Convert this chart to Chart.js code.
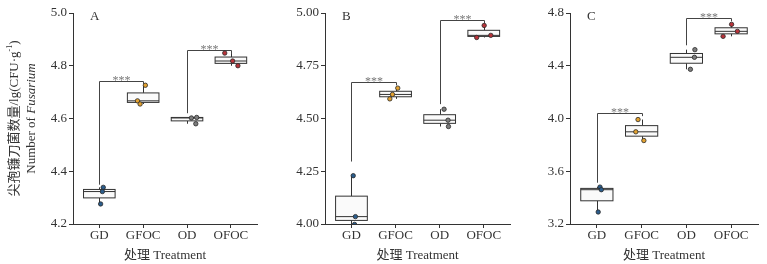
<!DOCTYPE html>
<html>
<head>
<meta charset="utf-8">
<title>Fusarium</title>
<script src="https://cdn.jsdelivr.net/npm/chart.js"></script>
<style>
  body { margin: 0; background: #fff; }
  #wrap { position: relative; width: 767px; height: 264px; }
  canvas { position: absolute; top: 0; }
</style>
</head>
<body>
<div id="wrap">
  <canvas id="panelA" width="262" height="264" style="left:0px"></canvas>
  <canvas id="panelB" width="253" height="264" style="left:262px"></canvas>
  <canvas id="panelC" width="252" height="264" style="left:515px"></canvas>
</div>
<script>
// categories and colours of the groups
var categories = ['GD', 'GFOC', 'OD', 'OFOC'];
var groupColors = ['#2b5d8c', '#e3a230', '#7d7d7d', '#b8333a'];

// panel A
var aTicks = [4.2, 4.4, 4.6, 4.8, 5.0];
var aTickLabels = ['4.2', '4.4', '4.6', '4.8', '5.0'];
var aPoints = [[4.339, 4.323, 4.276], [4.726, 4.667, 4.655], [4.602, 4.604, 4.580], [4.848, 4.818, 4.800]];
var aJitter = [[0.09, 0.07, 0.03], [0.05, -0.13, -0.07], [0.10, 0.22, 0.20], [-0.14, 0.04, 0.16]];
var aQ1 = [4.299, 4.661, 4.591, 4.809];
var aMedian = [4.323, 4.667, 4.602, 4.818];
var aQ3 = [4.331, 4.697, 4.604, 4.833];
var aLow = [4.276, 4.655, 4.580, 4.800];
var aHigh = [4.339, 4.726, 4.604, 4.848];
var aBracketPairs = [[1, 2], [3, 4]];
var aBracketLeft = [4.349, 4.620];
var aBracketRight = [4.731, 4.845];
var aBracketTop = [4.743, 4.861];

// panel B
var bTicks = [4.00, 4.25, 4.50, 4.75, 5.00];
var bTickLabels = ['4.00', '4.25', '4.50', '4.75', '5.00'];
var bPoints = [[4.229, 4.035, 3.998], [4.644, 4.614, 4.593], [4.544, 4.492, 4.462], [4.941, 4.884, 4.894]];
var bJitter = [[0.04, 0.09, 0.07], [0.05, -0.07, -0.13], [0.10, 0.19, 0.20], [0.01, -0.16, 0.16]];
var bQ1 = [4.017, 4.603, 4.477, 4.889];
var bMedian = [4.035, 4.614, 4.492, 4.894];
var bQ3 = [4.132, 4.629, 4.518, 4.918];
var bLow = [3.998, 4.593, 4.462, 4.884];
var bHigh = [4.229, 4.644, 4.544, 4.941];
var bBracketPairs = [[1, 2], [3, 4]];
var bBracketLeft = [4.296, 4.568];
var bBracketRight = [4.657, 4.949];
var bBracketTop = [4.672, 4.967];

// panel C
var cTicks = [3.2, 3.6, 4.0, 4.4, 4.8];
var cTickLabels = ['3.2', '3.6', '4.0', '4.4', '4.8'];
var cPoints = [[3.480, 3.460, 3.291], [3.992, 3.899, 3.833], [4.522, 4.464, 4.373], [4.714, 4.661, 4.623]];
var cJitter = [[0.07, 0.10, 0.03], [-0.08, -0.13, 0.05], [0.19, 0.18, 0.09], [0.01, 0.14, -0.18]];
var cQ1 = [3.376, 3.866, 4.419, 4.642];
var cMedian = [3.460, 3.899, 4.464, 4.661];
var cQ3 = [3.470, 3.946, 4.493, 4.688];
var cLow = [3.291, 3.833, 4.373, 4.623];
var cHigh = [3.480, 3.992, 4.522, 4.714];
var cBracketPairs = [[1, 2], [3, 4]];
var cBracketLeft = [3.513, 4.555];
var cBracketRight = [4.018, 4.737];
var cBracketTop = [4.043, 4.760];

var SERIF = '"Liberation Serif", "Times New Roman", "Noto Sans CJK SC", serif';
var INK = '#333333';

// box plots, brackets, stars and the panel letter
var boxPlugin = {
  id: 'boxes',
  beforeDatasetsDraw: function (chart) {
    var p = chart.options.plugins.boxes;
    var x = chart.scales.x, y = chart.scales.y, ctx = chart.ctx;
    var half = 0.36;
    ctx.save();
    ctx.lineWidth = 1;
    ctx.strokeStyle = INK;
    for (var i = 0; i < categories.length; i++) {
      var cx = Math.round(x.getPixelForValue(i + 1)) + 0.5;
      var l = x.getPixelForValue(i + 1 - half), r = x.getPixelForValue(i + 1 + half);
      var t = y.getPixelForValue(p.q3[i]), b = y.getPixelForValue(p.q1[i]);
      ctx.beginPath();
      ctx.moveTo(cx, t); ctx.lineTo(cx, y.getPixelForValue(p.high[i]));
      ctx.moveTo(cx, b); ctx.lineTo(cx, y.getPixelForValue(p.low[i]));
      ctx.stroke();
      ctx.fillStyle = '#fafafa';
      ctx.fillRect(l, t, r - l, b - t);
      ctx.strokeRect(l, t, r - l, b - t);
      var m = y.getPixelForValue(p.median[i]);
      ctx.beginPath(); ctx.moveTo(l, m); ctx.lineTo(r, m); ctx.stroke();
    }
    // significance brackets
    ctx.strokeStyle = '#444';
    for (var k = 0; k < p.pairs.length; k++) {
      var x1 = Math.round(x.getPixelForValue(p.pairs[k][0])) + 0.5;
      var x2 = Math.round(x.getPixelForValue(p.pairs[k][1])) + 0.5;
      var yt = Math.round(y.getPixelForValue(p.top[k])) + 0.5;
      ctx.beginPath();
      ctx.moveTo(x1, y.getPixelForValue(p.left[k]));
      ctx.lineTo(x1, yt); ctx.lineTo(x2, yt);
      ctx.lineTo(x2, y.getPixelForValue(p.right[k]));
      ctx.stroke();
      ctx.fillStyle = '#777';
      ctx.font = '12px ' + SERIF;
      ctx.textAlign = 'center';
      ctx.textBaseline = 'alphabetic';
      ctx.fillText('***', (x1 + x2) / 2, yt + 2);
    }
    // panel letter
    ctx.fillStyle = INK;
    ctx.font = '13px ' + SERIF;
    ctx.textAlign = 'left';
    ctx.textBaseline = 'middle';
    ctx.fillText(p.letter, chart.chartArea.left + 17, chart.chartArea.top + 4);
    ctx.restore();
  }
};

// two line y axis title, only on panel A
var yTitlePlugin = {
  id: 'ytitle',
  afterDraw: function (chart) {
    if (!chart.options.plugins.ytitle.show) return;
    var ctx = chart.ctx;
    var cy = (chart.chartArea.top + chart.chartArea.bottom) / 2;
    ctx.save();
    ctx.fillStyle = INK;
    ctx.textBaseline = 'middle';
    ctx.textAlign = 'left';
    // first line
    ctx.translate(15, cy);
    ctx.rotate(-Math.PI / 2);
    var f1 = '13px ' + SERIF, f1s = '8px ' + SERIF;
    var s1 = '尖孢镰刀菌数量/lg(CFU·g', s2 = '-1', s3 = ')';
    ctx.font = f1; var w1 = ctx.measureText(s1).width, w3 = ctx.measureText(s3).width;
    ctx.font = f1s; var w2 = ctx.measureText(s2).width;
    var sx = -(w1 + w2 + w3) / 2;
    ctx.font = f1; ctx.fillText(s1, sx, 0);
    ctx.font = f1s; ctx.fillText(s2, sx + w1, -5);
    ctx.font = f1; ctx.fillText(s3, sx + w1 + w2, 0);
    // second line
    var t1 = 'Number of ', t2 = 'Fusarium';
    var fi = 'italic 13px ' + SERIF;
    ctx.font = f1; var v1 = ctx.measureText(t1).width;
    ctx.font = fi; var v2 = ctx.measureText(t2).width;
    var tx = -(v1 + v2) / 2;
    ctx.font = f1; ctx.fillText(t1, tx, 17);
    ctx.font = fi; ctx.fillText(t2, tx + v1, 17);
    ctx.restore();
  }
};

function makePanel(id, d) {
  var datasets = [];
  for (var i = 0; i < categories.length; i++) {
    var pts = [];
    for (var j = 0; j < d.points[i].length; j++) {
      pts.push({ x: i + 1 + d.jitter[i][j], y: d.points[i][j] });
    }
    datasets.push({
      label: categories[i],
      data: pts,
      pointRadius: 2.2,
      pointBackgroundColor: groupColors[i],
      pointBorderColor: '#2a2a2a',
      pointBorderWidth: 0.8
    });
  }
  new Chart(document.getElementById(id), {
    type: 'scatter',
    data: { datasets: datasets },
    plugins: [boxPlugin, yTitlePlugin],
    options: {
      responsive: false,
      animation: false,
      layout: { padding: { top: 13, right: d.padRight, left: 0, bottom: 0 } },
      plugins: {
        legend: { display: false },
        tooltip: { enabled: false },
        boxes: {
          q1: d.q1, median: d.median, q3: d.q3, low: d.low, high: d.high,
          pairs: d.pairs, left: d.bLeft, right: d.bRight, top: d.bTop, letter: d.letter
        },
        ytitle: { show: d.letter === 'A' }
      },
      scales: {
        x: {
          type: 'linear', min: 0.4, max: 4.6,
          afterBuildTicks: function (s) { s.ticks = categories.map(function (c, i) { return { value: i + 1 }; }); },
          afterFit: function (s) { s.height = 40; },
          ticks: {
            autoSkip: false, maxRotation: 0, padding: 0, color: INK,
            font: { family: SERIF, size: 13 },
            callback: function (v) { return categories[Math.round(v) - 1]; }
          },
          grid: { display: true, drawOnChartArea: false, drawTicks: true, tickLength: 4, color: INK },
          border: { display: true, color: INK, width: 1 },
          title: { display: true, text: '处理 Treatment', color: INK, font: { family: SERIF, size: 13 }, padding: { top: 0, bottom: 1 } }
        },
        y: {
          min: d.ticks[0], max: d.ticks[d.ticks.length - 1],
          afterBuildTicks: function (s) { s.ticks = d.ticks.map(function (v) { return { value: v }; }); },
          afterFit: function (s) { s.width = d.axisWidth; },
          ticks: {
            padding: 2, color: INK,
            font: { family: SERIF, size: 13 },
            callback: function (v, i) { return d.tickLabels[i]; }
          },
          grid: { display: true, drawOnChartArea: false, drawTicks: true, tickLength: 4, color: INK },
          border: { display: true, color: INK, width: 1 }
        }
      }
    }
  });
}

makePanel('panelA', {
  letter: 'A', axisWidth: 73, padRight: 2,
  ticks: aTicks, tickLabels: aTickLabels, points: aPoints, jitter: aJitter,
  q1: aQ1, median: aMedian, q3: aQ3, low: aLow, high: aHigh,
  pairs: aBracketPairs, bLeft: aBracketLeft, bRight: aBracketRight, bTop: aBracketTop
});
makePanel('panelB', {
  letter: 'B', axisWidth: 63, padRight: 2,
  ticks: bTicks, tickLabels: bTickLabels, points: bPoints, jitter: bJitter,
  q1: bQ1, median: bMedian, q3: bQ3, low: bLow, high: bHigh,
  pairs: bBracketPairs, bLeft: bBracketLeft, bRight: bBracketRight, bTop: bBracketTop
});
makePanel('panelC', {
  letter: 'C', axisWidth: 55, padRight: 9,
  ticks: cTicks, tickLabels: cTickLabels, points: cPoints, jitter: cJitter,
  q1: cQ1, median: cMedian, q3: cQ3, low: cLow, high: cHigh,
  pairs: cBracketPairs, bLeft: cBracketLeft, bRight: cBracketRight, bTop: cBracketTop
});
</script>
</body>
</html>
